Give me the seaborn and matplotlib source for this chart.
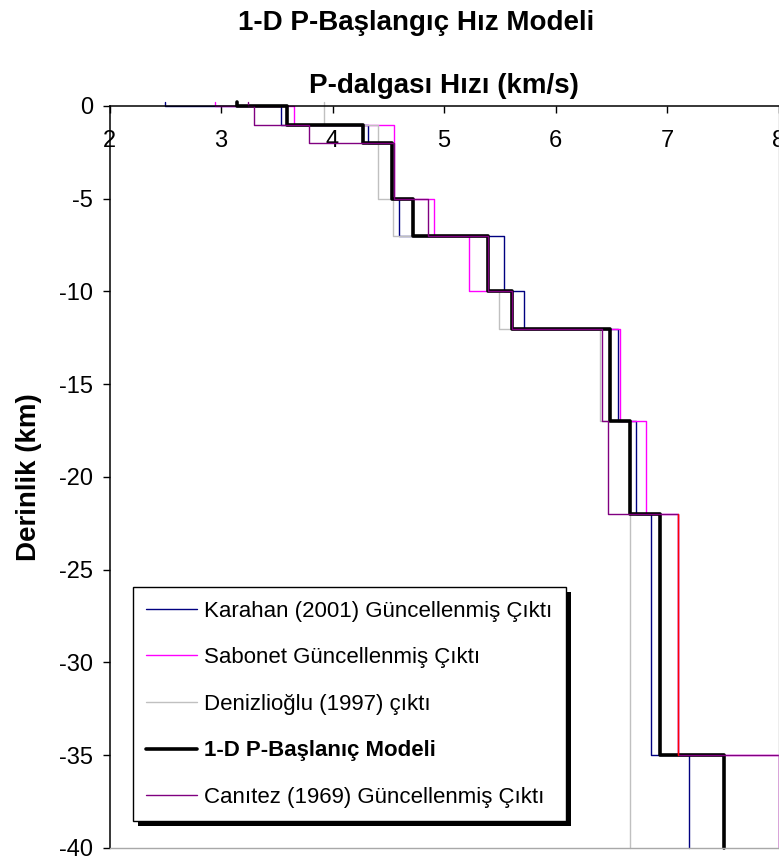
import numpy as np
import pandas as pd
import matplotlib
matplotlib.use('Agg')
import matplotlib.pyplot as plt
from matplotlib.patches import Rectangle
import seaborn as sns

# layer tops / bottoms (km); first layer sits just above the surface
layer_top = [0.2, 0, -1, -2, -5, -7, -10, -12, -17, -22, -35]
layer_bottom = [0, -1, -2, -5, -7, -10, -12, -17, -22, -35, -40]

# P velocities (km/s) per layer
karahan = [2.50, 3.54, 4.32, 4.53, 4.60, 5.54, 5.72, 6.56, 6.72, 6.86, 7.20]
sabonet = [2.95, 3.65, 4.55, 4.55, 4.91, 5.22, 5.61, 6.58, 6.81, 7.10, 8.00]
denizlioglu = [3.92, 3.92, 4.41, 4.41, 4.54, 5.39, 5.49, 6.40, 6.67, 6.67, 6.67]
baslangic = [3.14, 3.59, 4.27, 4.53, 4.72, 5.39, 5.61, 6.49, 6.67, 6.94, 7.51]
canitez = [3.24, 3.30, 3.79, 4.55, 4.86, 5.39, 5.61, 6.42, 6.47, 7.10, 8.00]
# extra red trace (not in legend), only the 22-35 km layer
red_layer = [None, None, None, None, None, None, None, None, None, 7.10, None]

labels = ['Karahan (2001) Güncellenmiş Çıktı',
          'Sabonet Güncellenmiş Çıktı',
          'Denizlioğlu (1997) çıktı',
          '1-D P-Başlanıç Modeli',
          'Canıtez (1969) Güncellenmiş Çıktı']
colors = ['#000080', '#FF00FF', '#C0C0C0', '#000000', '#800080']
widths = [1.0, 1.0, 1.0, 2.6, 1.0]


def step_frame(vel):
    xs, ys = [], []
    for v, t, b in zip(vel, layer_top, layer_bottom):
        if v is None:
            continue
        xs += [v, v]
        ys += [t, b]
    return pd.DataFrame({'v': xs, 'd': ys})


sns.set_style('white')
plt.rcParams['font.family'] = ['Liberation Sans', 'DejaVu Sans']
plt.rcParams['axes.unicode_minus'] = False
for key in ['text.color', 'axes.labelcolor', 'xtick.color', 'ytick.color']:
    plt.rcParams[key] = 'black'

fig = plt.figure(figsize=(7.79, 8.58), dpi=100)
ax = fig.add_axes([0.1406, 0.0117, 0.8588, 0.8648])

series = [karahan, sabonet, denizlioglu, baslangic, canitez]
for vel, lab, col, lw in zip(series, labels, colors, widths):
    df = step_frame(vel)
    sns.lineplot(data=df, x='v', y='d', sort=False, estimator=None, ax=ax,
                 color=col, linewidth=lw, label=lab, clip_on=False)

df_red = step_frame(red_layer)
sns.lineplot(data=df_red, x='v', y='d', sort=False, estimator=None, ax=ax,
             color='#FF0000', linewidth=1.0, label='_nolegend_')

ax.set_xlim(2, 8)
ax.set_ylim(-40, 0)
ax.set_xticks(range(2, 9))
ax.set_yticks(range(-40, 1, 5))

ax.xaxis.tick_top()
ax.tick_params(axis='x', top=True, bottom=False, labeltop=True, labelbottom=False,
               direction='in', length=5, width=1, pad=-33, labelsize=17)
ax.tick_params(axis='y', left=True, direction='out', length=5, width=1, pad=7,
               labelsize=17)

for side in ['top', 'left']:
    ax.spines[side].set_color('black')
    ax.spines[side].set_linewidth(1.1)
for side in ['right', 'bottom']:
    ax.spines[side].set_color('#A8A8A8')
    ax.spines[side].set_linewidth(1.0)

ax.set_xlabel('P-dalgası Hızı (km/s)', fontsize=20, fontweight='bold')
ax.xaxis.set_label_position('top')
ax.xaxis.set_label_coords(0.5, 1.017)
ax.set_ylabel('Derinlik (km)', fontsize=20, fontweight='bold')
ax.yaxis.set_label_coords(-0.101, 0.5)

fig.text(416 / 779, 1 - 23 / 858, '1-D P-Başlangıç Hız Modeli', fontsize=20,
         fontweight='bold', ha='center', va='center')

leg = ax.legend(loc='lower left', bbox_to_anchor=(0.035, 0.036), borderaxespad=0,
                fontsize=16, frameon=True, fancybox=False, framealpha=1,
                edgecolor='black', handlelength=2.3, handletextpad=0.3,
                labelspacing=1.15, borderpad=0.6)
leg.get_frame().set_linewidth(1.0)
leg.get_texts()[3].set_fontweight('bold')

# hard black drop shadow like the Excel legend
fig.canvas.draw()
bb = leg.get_window_extent()
shadow = Rectangle((bb.x0 + 5, bb.y0 - 5), bb.width, bb.height, transform=None,
                   facecolor='black', edgecolor='none', zorder=4.5, clip_on=False)
ax.add_patch(shadow)

fig.savefig('out.png', dpi=100, facecolor='white')
